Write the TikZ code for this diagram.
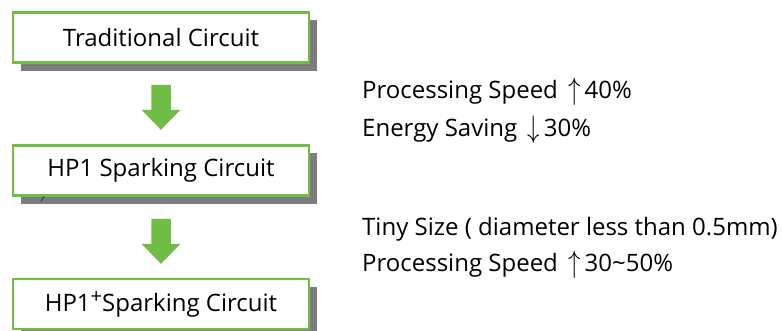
\documentclass[tikz,border=0pt]{standalone}
\usepackage{fontspec}
\setmainfont{Open Sans}
\usetikzlibrary{calc}
\definecolor{grn}{RGB}{112,190,70}
\definecolor{shd}{RGB}{124,124,128}
\newcommand\blockarrow[1]{\fill[grn] (#1) ++(-9.75,0) -- ++(19.5,0) -- ++(0,25) -- ++(9.75,0) -- ++(-19.5,20) -- ++(-19.5,-20) -- ++(9.75,0) -- cycle;}
\newcommand\upa{\,\raisebox{-1pt}{\scalebox{1}[1.25]{$\uparrow$}}\,}
\newcommand\dna{\,\raisebox{-1pt}{\scalebox{1}[1.25]{$\downarrow$}}\,}
\begin{document}
\begin{tikzpicture}[x=1pt,y=-1pt,
  box/.style={draw=grn,line width=2.6pt,fill=white,minimum width=296pt,minimum height=50pt,inner sep=0pt,font=\fontsize{24}{28}\selectfont},
  shadowbox/.style={fill=shd},
  note/.style={anchor=base west,inner sep=0pt,font=\fontsize{24}{28}\selectfont}]
\useasboundingbox (0,0) rectangle (782,331);
\clip (0,0) rectangle (782,331);
\fill[white] (0,0) rectangle (782,331);
% shadows
\fill[shadowbox] (21,20) rectangle (317,71);
\fill[shadowbox] (21,153) rectangle (317,204);
\fill[shadowbox] (21,287) rectangle (317,337);
\node[box] (b1) at (161,37.5) {Traditional Circuit};
\node[box] (b2) at (161,170.5) {HP1 Sparking Circuit};
\node[box] (b3) at (161,304) {HP1\raisebox{8pt}{\fontsize{20}{20}\selectfont +}Sparking Circuit};
\node[inner sep=0pt,font=\fontsize{7}{8}\selectfont,rotate=-30] (paren) at (43,199) {(};
\coordinate (a1) at ($(b1.south)+(0,21)$);
\coordinate (a2) at ($(b2.south)+(0,22)$);
\blockarrow{a1}
\blockarrow{a2}
\node[note] (t1) at (362,99) {Processing Speed \upa40\%};
\node[note] (t2) at (362,137) {Energy Saving \dna30\%};
\node[note] (t3) at (362,236) {Tiny Size ( diameter less than 0.5mm)};
\node[note] (t4) at (362,272) {Processing Speed \upa30\textasciitilde50\%};
\end{tikzpicture}
\end{document}
